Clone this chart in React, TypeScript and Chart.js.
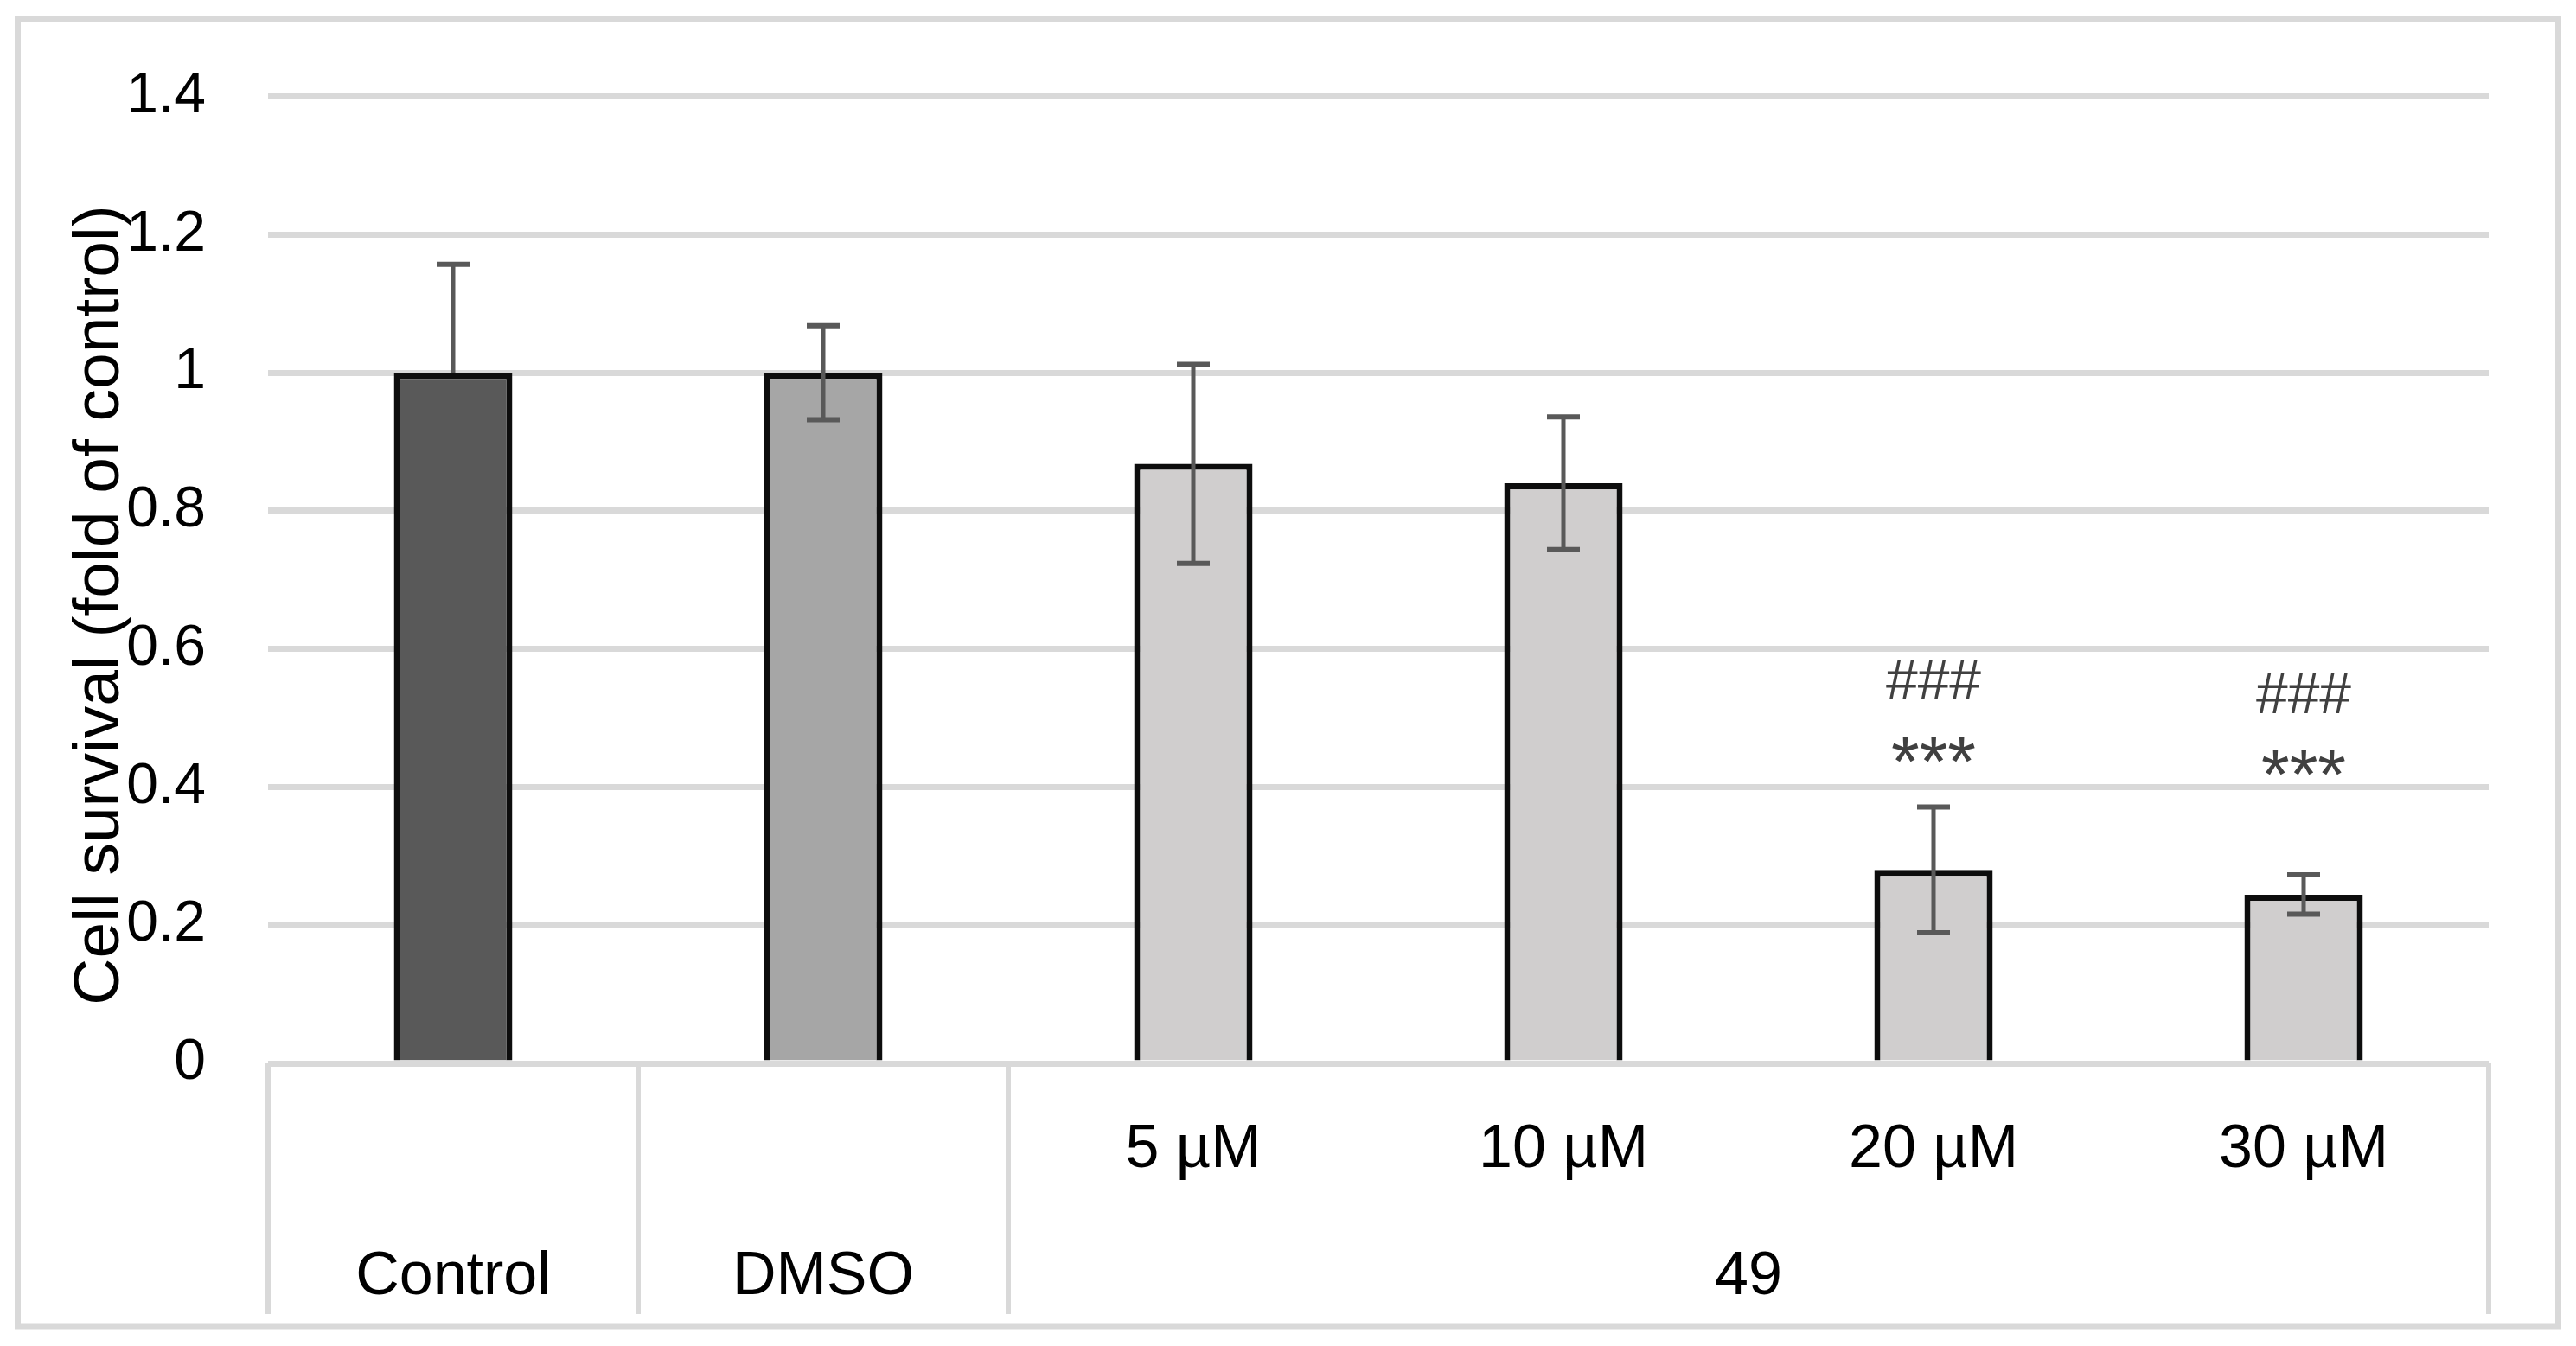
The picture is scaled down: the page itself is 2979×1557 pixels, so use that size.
import React, { useEffect, useRef } from "react";
import { Chart, registerables } from "chart.js";

Chart.register(...registerables);

const categories = ["Control", "DMSO", "5 µM", "10 µM", "20 µM", "30 µM"];
const subLabels = ["", "", "5 µM", "10 µM", "20 µM", "30 µM"];
const groupLabels = ["Control", "DMSO", "49"];
const groupStart = [0, 1, 2];
const groupEnd = [0, 1, 5];
const values = [1.0, 1.0, 0.868, 0.84, 0.28, 0.244];
const errorPlus = [0.157, 0.068, 0.144, 0.096, 0.091, 0.029];
const errorMinus = [0, 0.068, 0.144, 0.096, 0.091, 0.028];
const barColors = ["#595959", "#a6a6a6", "#d0cece", "#d0cece", "#d0cece", "#d0cece"];
const hashMarks = ["", "", "", "", "###", "###"];
const hashLevel = [0, 0, 0, 0, 0.556, 0.536];
const starMarks = ["", "", "", "", "***", "***"];
const starLevel = [0, 0, 0, 0, 0.455, 0.436];
const yMin = 0;
const yMax = 1.4;
const yStep = 0.2;
const yTitle = "Cell survival (fold of control)";

const FONT = "'Liberation Sans', Arial, sans-serif";
const GRID = "#d9d9d9";

const framePlugin = {
  id: "frame",
  afterDraw(chart: any) {
    const ctx = chart.ctx;
    ctx.save();
    ctx.strokeStyle = GRID;
    ctx.lineWidth = 7;
    ctx.strokeRect(20.5, 22.5, 2938, 1511.5);
    ctx.restore();
  },
};

const tablePlugin = {
  id: "catTable",
  afterDraw(chart: any) {
    const ctx = chart.ctx;
    const xs = chart.scales.x;
    const area = chart.chartArea;
    const n = categories.length;
    const px = (i: number) => xs.getPixelForValue(i);
    const leftEdge = (i: number) => (i === 0 ? area.left : (px(i - 1) + px(i)) / 2);
    const rightEdge = (i: number) => (i === n - 1 ? area.right : (px(i) + px(i + 1)) / 2);
    ctx.save();
    ctx.strokeStyle = GRID;
    ctx.lineWidth = 6;
    const edges: number[] = [area.left];
    for (let g = 0; g < groupLabels.length; g++) edges.push(rightEdge(groupEnd[g]));
    edges.forEach((x) => {
      ctx.beginPath();
      ctx.moveTo(x, area.bottom);
      ctx.lineTo(x, xs.bottom);
      ctx.stroke();
    });
    ctx.fillStyle = "#000";
    ctx.font = `70px ${FONT}`;
    ctx.textAlign = "center";
    ctx.textBaseline = "alphabetic";
    for (let i = 0; i < n; i++) {
      if (subLabels[i]) ctx.fillText(subLabels[i], px(i), xs.top + 120);
    }
    for (let g = 0; g < groupLabels.length; g++) {
      const cx = (leftEdge(groupStart[g]) + rightEdge(groupEnd[g])) / 2;
      ctx.fillText(groupLabels[g], cx, xs.top + 267);
    }
    ctx.restore();
  },
};

const errorPlugin = {
  id: "errorBars",
  afterDatasetsDraw(chart: any) {
    const ctx = chart.ctx;
    const ys = chart.scales.y;
    const meta = chart.getDatasetMeta(0);
    ctx.save();
    ctx.strokeStyle = "#595959";
    const half = 19;
    meta.data.forEach((bar: any, i: number) => {
      const x = bar.x;
      const yTop = ys.getPixelForValue(values[i] + errorPlus[i]);
      const yBot = ys.getPixelForValue(values[i] - errorMinus[i]);
      ctx.lineWidth = 5;
      ctx.beginPath();
      ctx.moveTo(x, yTop);
      ctx.lineTo(x, yBot);
      ctx.stroke();
      ctx.lineWidth = 6;
      ctx.beginPath();
      ctx.moveTo(x - half, yTop);
      ctx.lineTo(x + half, yTop);
      if (errorMinus[i] > 0) {
        ctx.moveTo(x - half, yBot);
        ctx.lineTo(x + half, yBot);
      }
      ctx.stroke();
    });
    ctx.restore();
  },
};

const sigPlugin = {
  id: "sigMarks",
  afterDatasetsDraw(chart: any) {
    const ctx = chart.ctx;
    const ys = chart.scales.y;
    const meta = chart.getDatasetMeta(0);
    ctx.save();
    ctx.fillStyle = "#404040";
    ctx.textAlign = "center";
    ctx.textBaseline = "alphabetic";
    const drawCentered = (text: string, x: number, cy: number, size: number) => {
      ctx.font = `${size}px ${FONT}`;
      const m = ctx.measureText(text);
      const off = (m.actualBoundingBoxAscent - m.actualBoundingBoxDescent) / 2;
      ctx.fillText(text, x, cy + off);
    };
    meta.data.forEach((bar: any, i: number) => {
      if (hashMarks[i]) drawCentered(hashMarks[i], bar.x, ys.getPixelForValue(hashLevel[i]), 66);
      if (starMarks[i]) drawCentered(starMarks[i], bar.x, ys.getPixelForValue(starLevel[i]), 84);
    });
    ctx.restore();
  },
};

const titlePlugin = {
  id: "yTitle",
  afterDraw(chart: any) {
    const ctx = chart.ctx;
    ctx.save();
    ctx.translate(137, 700);
    ctx.rotate(-Math.PI / 2);
    ctx.fillStyle = "#000";
    ctx.font = `75px ${FONT}`;
    ctx.textAlign = "center";
    ctx.textBaseline = "alphabetic";
    ctx.fillText(yTitle, 0, 0);
    ctx.restore();
  },
};

export default function App() {
  const ref = useRef<HTMLCanvasElement>(null);
  useEffect(() => {
    document.body.style.margin = "0";
    document.body.style.overflow = "hidden";
    const canvas = ref.current as HTMLCanvasElement;
    const chart = new Chart(canvas, {
      type: "bar",
      data: {
        labels: categories,
        datasets: [
          {
            data: values,
            backgroundColor: barColors,
            borderColor: "#0d0d0d",
            borderWidth: 7,
            borderSkipped: "bottom",
            barPercentage: 0.32,
            categoryPercentage: 1,
          },
        ],
      },
      options: {
        responsive: false,
        animation: false,
        devicePixelRatio: 1,
        layout: { padding: { top: 98, right: 101, bottom: 37, left: 0 } },
        plugins: { legend: { display: false }, tooltip: { enabled: false } },
        scales: {
          x: {
            grid: { display: false },
            border: { display: false },
            ticks: { display: false },
            afterFit: (s: any) => {
              s.height = 290;
            },
          },
          y: {
            min: yMin,
            max: yMax,
            ticks: {
              stepSize: yStep,
              padding: 72,
              color: "#000",
              font: { family: FONT, size: 66 },
              callback: (v: any) => String(Number(Number(v).toFixed(1))),
            },
            grid: { color: GRID, lineWidth: 7, drawTicks: false },
            border: { display: false },
            afterFit: (s: any) => {
              s.width = 310;
            },
          },
        },
      } as any,
      plugins: [framePlugin, tablePlugin, errorPlugin, sigPlugin, titlePlugin],
    });
    return () => chart.destroy();
  }, []);
  return <canvas ref={ref} width={2979} height={1557} style={{ display: "block" }} />;
}
